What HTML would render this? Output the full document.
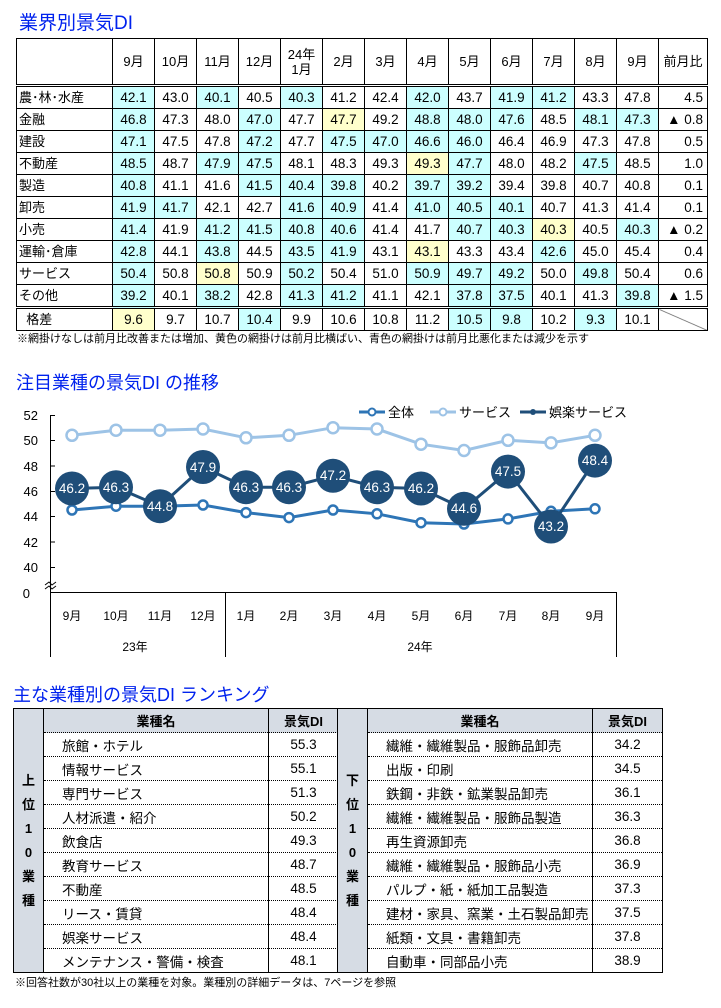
<!DOCTYPE html>
<html><head><meta charset="utf-8">
<style>
body{margin:0;width:721px;height:1008px;background:#fff;position:relative;font-family:"Liberation Sans","Noto Sans CJK JP",sans-serif;color:#000;overflow:hidden}
.t{position:absolute;color:#0022ee;font-size:18px;white-space:nowrap}
table{border-collapse:collapse;position:absolute;table-layout:fixed}
#t1 td{border:1px solid #000;height:21px;padding:0;font-size:13.5px;text-align:center;line-height:15px}
#t1 td.l{text-align:left;padding-left:2px;font-size:13px}
#t1 td.r{text-align:right;padding-right:4px}
#t1 tr.h td{height:45px;border-bottom:3px double #000;font-size:13px}
#t1 tr.g td{border-top:3px double #000}
.c{background:#ccffff}.y{background:#ffffcc}
.note{position:absolute;font-size:11px;white-space:nowrap}
.rk td{border-left:1px solid #000;border-right:1px solid #000;border-bottom:1px dotted #000;height:23px;padding:0;font-size:13.5px}
.rk tr.hd td{background:#d6dce4;font-weight:bold;text-align:center;border-bottom:1px dotted #000;font-size:13px}
.rk td.lab{background:#d6dce4;font-weight:bold;text-align:center;line-height:24px;border-bottom:1px solid #000}
.rk td.n{padding-left:18px}
.rk td.v{text-align:center}
.rk{border:1px solid #000}
.rk tr:last-child td{border-bottom:1px solid #000}
</style></head><body>
<div class="t" style="left:19px;top:8px;font-size:19px">業界別景気DI</div>
<table id="t1" style="left:16px;top:38px;width:691px">
<colgroup><col style="width:96px"><col span="13" style="width:42px"><col style="width:49px"></colgroup>
<tr class="h"><td></td><td>9月</td><td>10月</td><td>11月</td><td>12月</td><td>24年<br>1月</td><td>2月</td><td>3月</td><td>4月</td><td>5月</td><td>6月</td><td>7月</td><td>8月</td><td>9月</td><td>前月比</td></tr>
<tr><td class="l">農･林･水産</td><td class="c">42.1</td><td>43.0</td><td class="c">40.1</td><td>40.5</td><td class="c">40.3</td><td>41.2</td><td>42.4</td><td class="c">42.0</td><td>43.7</td><td class="c">41.9</td><td class="c">41.2</td><td>43.3</td><td>47.8</td><td class="r">4.5</td></tr>
<tr><td class="l">金融</td><td class="c">46.8</td><td>47.3</td><td>48.0</td><td class="c">47.0</td><td>47.7</td><td class="y">47.7</td><td>49.2</td><td class="c">48.8</td><td class="c">48.0</td><td class="c">47.6</td><td>48.5</td><td class="c">48.1</td><td class="c">47.3</td><td class="r">▲ 0.8</td></tr>
<tr><td class="l">建設</td><td class="c">47.1</td><td>47.5</td><td>47.8</td><td class="c">47.2</td><td>47.7</td><td class="c">47.5</td><td class="c">47.0</td><td class="c">46.6</td><td class="c">46.0</td><td>46.4</td><td>46.9</td><td>47.3</td><td>47.8</td><td class="r">0.5</td></tr>
<tr><td class="l">不動産</td><td class="c">48.5</td><td>48.7</td><td class="c">47.9</td><td class="c">47.5</td><td>48.1</td><td>48.3</td><td>49.3</td><td class="y">49.3</td><td class="c">47.7</td><td>48.0</td><td>48.2</td><td class="c">47.5</td><td>48.5</td><td class="r">1.0</td></tr>
<tr><td class="l">製造</td><td class="c">40.8</td><td>41.1</td><td>41.6</td><td class="c">41.5</td><td class="c">40.4</td><td class="c">39.8</td><td>40.2</td><td class="c">39.7</td><td class="c">39.2</td><td>39.4</td><td>39.8</td><td>40.7</td><td>40.8</td><td class="r">0.1</td></tr>
<tr><td class="l">卸売</td><td class="c">41.9</td><td class="c">41.7</td><td>42.1</td><td>42.7</td><td class="c">41.6</td><td class="c">40.9</td><td>41.4</td><td class="c">41.0</td><td class="c">40.5</td><td class="c">40.1</td><td>40.7</td><td>41.3</td><td>41.4</td><td class="r">0.1</td></tr>
<tr><td class="l">小売</td><td class="c">41.4</td><td>41.9</td><td class="c">41.2</td><td class="c">41.5</td><td class="c">40.8</td><td class="c">40.6</td><td>41.4</td><td>41.7</td><td class="c">40.7</td><td class="c">40.3</td><td class="y">40.3</td><td>40.5</td><td class="c">40.3</td><td class="r">▲ 0.2</td></tr>
<tr><td class="l">運輸･倉庫</td><td class="c">42.8</td><td>44.1</td><td class="c">43.8</td><td>44.5</td><td class="c">43.5</td><td class="c">41.9</td><td>43.1</td><td class="y">43.1</td><td>43.3</td><td>43.4</td><td class="c">42.6</td><td>45.0</td><td>45.4</td><td class="r">0.4</td></tr>
<tr><td class="l">サービス</td><td class="c">50.4</td><td>50.8</td><td class="y">50.8</td><td>50.9</td><td class="c">50.2</td><td>50.4</td><td>51.0</td><td class="c">50.9</td><td class="c">49.7</td><td class="c">49.2</td><td>50.0</td><td class="c">49.8</td><td>50.4</td><td class="r">0.6</td></tr>
<tr><td class="l">その他</td><td class="c">39.2</td><td>40.1</td><td class="c">38.2</td><td>42.8</td><td class="c">41.3</td><td class="c">41.2</td><td>41.1</td><td>42.1</td><td class="c">37.8</td><td class="c">37.5</td><td>40.1</td><td>41.3</td><td class="c">39.8</td><td class="r">▲ 1.5</td></tr>
<tr class="g"><td class="l">&nbsp;&nbsp;格差</td><td class="y">9.6</td><td>9.7</td><td>10.7</td><td class="c">10.4</td><td>9.9</td><td>10.6</td><td>10.8</td><td>11.2</td><td class="c">10.5</td><td class="c">9.8</td><td>10.2</td><td class="c">9.3</td><td>10.1</td><td style="background:linear-gradient(to top right,#fff 48%,#666 50%,#fff 52%)"></td></tr>
</table>
<div class="note" style="left:17px;top:330px">※網掛けなしは前月比改善または増加、黄色の網掛けは前月比横ばい、青色の網掛けは前月比悪化または減少を示す</div>

<div class="t" style="left:16px;top:369px">注目業種の景気DI の推移</div>
<svg style="position:absolute;left:0;top:0" width="721" height="1008" font-family="Liberation Sans, Noto Sans CJK JP, sans-serif" font-size="13">
<g stroke="#000" stroke-width="1" fill="none">
<line x1="50.5" y1="415" x2="50.5" y2="657"/>
<line x1="50" y1="592.5" x2="616" y2="592.5"/>
<line x1="225.5" y1="592" x2="225.5" y2="657"/>
<line x1="616.5" y1="592" x2="616.5" y2="657"/>
<g><line x1="50" y1="415.5" x2="55" y2="415.5"/><line x1="50" y1="440.5" x2="55" y2="440.5"/><line x1="50" y1="466" x2="55" y2="466"/><line x1="50" y1="491.5" x2="55" y2="491.5"/><line x1="50" y1="516.5" x2="55" y2="516.5"/><line x1="50" y1="542" x2="55" y2="542"/><line x1="50" y1="567.5" x2="55" y2="567.5"/></g>
<path d="M45 585 l4 -3 l3 3 l4 -3 M45 589 l4 -3 l3 3 l4 -3"/>
</g>
<g text-anchor="end" fill="#000"><text x="38" y="420">52</text><text x="38" y="445">50</text><text x="38" y="471">48</text><text x="38" y="496">46</text><text x="38" y="521">44</text><text x="38" y="547">42</text><text x="38" y="572">40</text><text x="30" y="598">0</text></g>
<g text-anchor="middle" font-size="12"><text x="72" y="620">9月</text><text x="116" y="620">10月</text><text x="160" y="620">11月</text><text x="203" y="620">12月</text><text x="246" y="620">1月</text><text x="289" y="620">2月</text><text x="333" y="620">3月</text><text x="377" y="620">4月</text><text x="421" y="620">5月</text><text x="464" y="620">6月</text><text x="508" y="620">7月</text><text x="551" y="620">8月</text><text x="595" y="620">9月</text>
<text x="135" y="651">23年</text><text x="420" y="651">24年</text></g>
<polyline fill="none" stroke="#9dc3e6" stroke-width="3" points="72,435.3 116,430.2 160,430.2 203,429 246,437.8 289,435.3 333,427.7 377,429 421,444.2 464,450.5 508,440.3 551,442.9 595,435.3"/>
<g fill="#fff" stroke="#9dc3e6" stroke-width="2.5"><circle cx="72" cy="435.3" r="5.5"/><circle cx="116" cy="430.2" r="5.5"/><circle cx="160" cy="430.2" r="5.5"/><circle cx="203" cy="429" r="5.5"/><circle cx="246" cy="437.8" r="5.5"/><circle cx="289" cy="435.3" r="5.5"/><circle cx="333" cy="427.7" r="5.5"/><circle cx="377" cy="429" r="5.5"/><circle cx="421" cy="444.2" r="5.5"/><circle cx="464" cy="450.5" r="5.5"/><circle cx="508" cy="440.3" r="5.5"/><circle cx="551" cy="442.9" r="5.5"/><circle cx="595" cy="435.3" r="5.5"/></g>
<polyline fill="none" stroke="#2e75b6" stroke-width="3" points="72,510 116,506.2 160,506.2 203,505 246,512.6 289,517.6 333,510 377,513.8 421,522.7 464,524 508,518.9 551,511.3 595,508.8"/>
<g fill="#fff" stroke="#2e75b6" stroke-width="2.5"><circle cx="72" cy="510" r="4.5"/><circle cx="116" cy="506.2" r="4.5"/><circle cx="160" cy="506.2" r="4.5"/><circle cx="203" cy="505" r="4.5"/><circle cx="246" cy="512.6" r="4.5"/><circle cx="289" cy="517.6" r="4.5"/><circle cx="333" cy="510" r="4.5"/><circle cx="377" cy="513.8" r="4.5"/><circle cx="421" cy="522.7" r="4.5"/><circle cx="464" cy="524" r="4.5"/><circle cx="508" cy="518.9" r="4.5"/><circle cx="551" cy="511.3" r="4.5"/><circle cx="595" cy="508.8" r="4.5"/></g>
<polyline fill="none" stroke="#1f4e79" stroke-width="3" points="72,488.5 116,487.2 160,506.2 203,467 246,487.2 289,487.2 333,475.8 377,487.2 421,488.5 464,508.8 508,471.6 551,526.5 595,460.6"/>
<g fill="#1f4e79"><circle cx="72" cy="488.5" r="17"/><circle cx="116" cy="487.2" r="17"/><circle cx="160" cy="506.2" r="17"/><circle cx="203" cy="467" r="17"/><circle cx="246" cy="487.2" r="17"/><circle cx="289" cy="487.2" r="17"/><circle cx="333" cy="475.8" r="17"/><circle cx="377" cy="487.2" r="17"/><circle cx="421" cy="488.5" r="17"/><circle cx="464" cy="508.8" r="17"/><circle cx="508" cy="471.6" r="17"/><circle cx="551" cy="526.5" r="17"/><circle cx="595" cy="460.6" r="17"/></g>
<g fill="#fff" text-anchor="middle" font-size="13.5"><text x="72" y="493">46.2</text><text x="116" y="492">46.3</text><text x="160" y="511">44.8</text><text x="203" y="472">47.9</text><text x="246" y="492">46.3</text><text x="289" y="492">46.3</text><text x="333" y="480">47.2</text><text x="377" y="492">46.3</text><text x="421" y="493">46.2</text><text x="464" y="513">44.6</text><text x="508" y="476">47.5</text><text x="551" y="531">43.2</text><text x="595" y="465">48.4</text></g>
<line x1="359" y1="412" x2="385" y2="412" stroke="#2e75b6" stroke-width="3"/><circle cx="372" cy="412" r="3.5" fill="#fff" stroke="#2e75b6" stroke-width="2"/><text x="388" y="417">全体</text>
<line x1="430" y1="412" x2="456" y2="412" stroke="#9dc3e6" stroke-width="3"/><circle cx="443" cy="412" r="3.5" fill="#fff" stroke="#9dc3e6" stroke-width="2"/><text x="459" y="417">サービス</text>
<line x1="520" y1="412" x2="546" y2="412" stroke="#1f4e79" stroke-width="3"/><circle cx="533" cy="412" r="3" fill="#1f4e79"/><text x="549" y="417">娯楽サービス</text>
</svg>

<div class="t" style="left:13px;top:681px">主な業種別の景気DI ランキング</div>
<table class="rk" style="left:13px;top:708px;width:325px">
<colgroup><col style="width:30px"><col style="width:225px"><col style="width:70px"></colgroup>
<tr class="hd"><td class="lab" rowspan="11" style="vertical-align:middle">上<br>位<br>1<br>0<br>業<br>種</td><td>業種名</td><td>景気DI</td></tr>
<tr><td class="n">旅館・ホテル</td><td class="v">55.3</td></tr>
<tr><td class="n">情報サービス</td><td class="v">55.1</td></tr>
<tr><td class="n">専門サービス</td><td class="v">51.3</td></tr>
<tr><td class="n">人材派遣・紹介</td><td class="v">50.2</td></tr>
<tr><td class="n">飲食店</td><td class="v">49.3</td></tr>
<tr><td class="n">教育サービス</td><td class="v">48.7</td></tr>
<tr><td class="n">不動産</td><td class="v">48.5</td></tr>
<tr><td class="n">リース・賃貸</td><td class="v">48.4</td></tr>
<tr><td class="n">娯楽サービス</td><td class="v">48.4</td></tr>
<tr><td class="n">メンテナンス・警備・検査</td><td class="v">48.1</td></tr>
</table>
<table class="rk" style="left:337px;top:708px;width:325px">
<colgroup><col style="width:30px"><col style="width:225px"><col style="width:70px"></colgroup>
<tr class="hd"><td class="lab" rowspan="11" style="vertical-align:middle">下<br>位<br>1<br>0<br>業<br>種</td><td>業種名</td><td>景気DI</td></tr>
<tr><td class="n">繊維・繊維製品・服飾品卸売</td><td class="v">34.2</td></tr>
<tr><td class="n">出版・印刷</td><td class="v">34.5</td></tr>
<tr><td class="n">鉄鋼・非鉄・鉱業製品卸売</td><td class="v">36.1</td></tr>
<tr><td class="n">繊維・繊維製品・服飾品製造</td><td class="v">36.3</td></tr>
<tr><td class="n">再生資源卸売</td><td class="v">36.8</td></tr>
<tr><td class="n">繊維・繊維製品・服飾品小売</td><td class="v">36.9</td></tr>
<tr><td class="n">パルプ・紙・紙加工品製造</td><td class="v">37.3</td></tr>
<tr><td class="n">建材・家具、窯業・土石製品卸売</td><td class="v">37.5</td></tr>
<tr><td class="n">紙類・文具・書籍卸売</td><td class="v">37.8</td></tr>
<tr><td class="n">自動車・同部品小売</td><td class="v">38.9</td></tr>
</table>
<div class="note" style="left:15px;top:974px">※回答社数が30社以上の業種を対象。業種別の詳細データは、7ページを参照</div>
</body></html>
